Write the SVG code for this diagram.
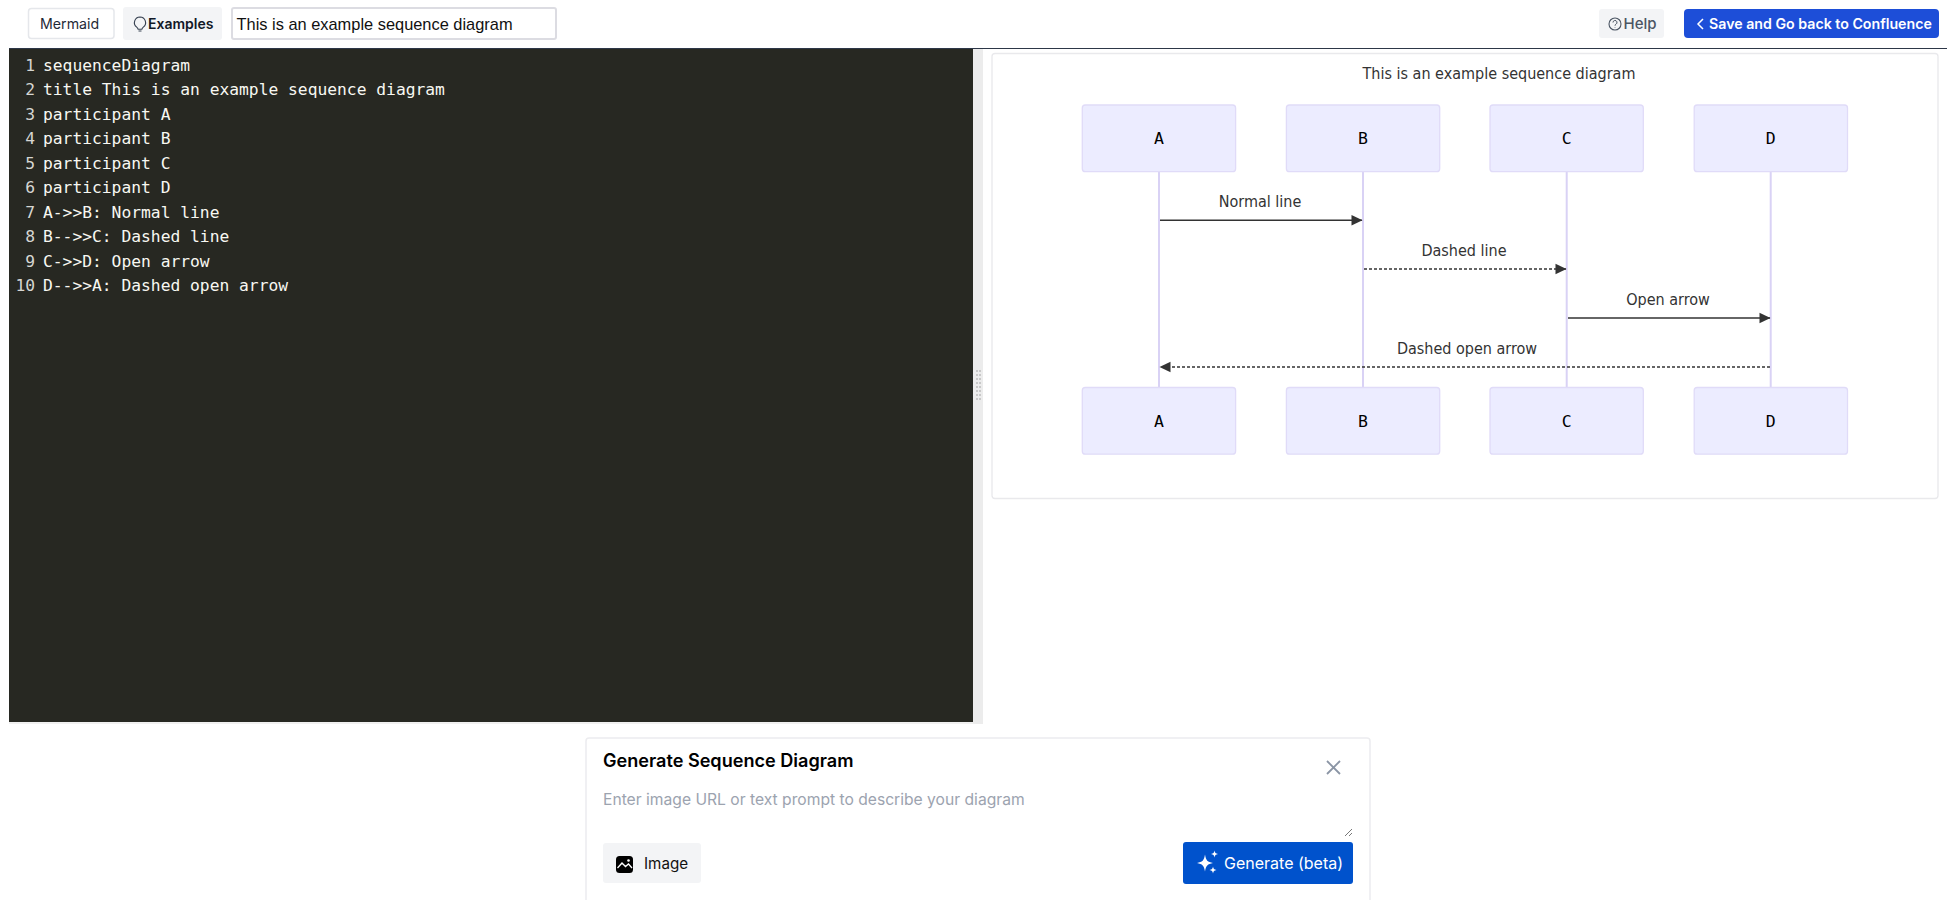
<svg xmlns="http://www.w3.org/2000/svg" width="1957" height="900" viewBox="0 0 1957 900">
<style>
.ui{font-family:"Inter","Liberation Sans",sans-serif}
.code{font-family:"DejaVu Sans Mono","Liberation Mono",monospace;font-size:16.3px;fill:#f8f8f2}
.num{font-family:"DejaVu Sans Mono","Liberation Mono",monospace;font-size:16.3px;fill:#d6d6d2;text-anchor:end}
.actor{fill:#ececff;stroke:#e0dbf8;stroke-width:1.3}
.alabel{font-family:"DejaVu Sans Mono",monospace;font-size:16.5px;fill:#000;text-anchor:middle}
.life{stroke:#d9d2f5;stroke-width:2;fill:none}
.msg{stroke:#333;stroke-width:1.5;fill:none}
.dash{stroke-dasharray:3 2}
.mtext{font-family:"DejaVu Sans Condensed","DejaVu Sans",sans-serif;font-stretch:condensed;font-size:16px;fill:#333;text-anchor:middle}
</style>
<defs>
<marker id="head" markerUnits="userSpaceOnUse" markerWidth="12" markerHeight="12" refX="11" refY="6" orient="auto-start-reverse" viewBox="0 0 12 12"><path d="M0.5 0.7L11.5 6L0.5 11.3Z" fill="#333"/></marker>
</defs>
<rect width="1957" height="900" fill="#fff"/>
<g id="toolbar">
<g id="btn-mermaid"><rect x="28.5" y="8.5" width="85.5" height="30" rx="3" fill="#fff" stroke="#e5e7eb" stroke-width="1.5"/><text class="ui" x="40" y="28.5" font-size="14.2" fill="#1f2937">Mermaid</text></g>
<g id="btn-examples"><rect x="123" y="7" width="99" height="33" rx="3" fill="#f3f4f6"/>
<path d="M140 17a5.600 5.600 0 0 0-3.300 10.100c.9.700 1.300 1.300 1.400 2.200h3.800c.1-.9.500-1.500 1.400-2.200A5.600 5.600 0 0 0 140 17ZM138.500 31h3" fill="none" stroke="#374151" stroke-width="1.100"/>
<text class="ui" x="148" y="28.500" font-size="14" font-weight="600" fill="#111827">Examples</text></g>
<g id="title-input"><rect x="232" y="8" width="324" height="31" rx="2" fill="#fff" stroke="#dcdce2" stroke-width="2"/><text x="236.500" y="29.500" font-family="Liberation Sans,sans-serif" font-size="16.400" fill="#111">This is an example sequence diagram</text></g>
<g id="btn-help"><rect x="1599" y="9" width="65" height="29" rx="3" fill="#f3f4f6"/><circle cx="1615" cy="24" r="6" fill="none" stroke="#4b5563" stroke-width="1.100"/><path d="M1613 22.500a2 2 0 1 1 3 1.700c-.7.400-1 .8-1 1.500M1615 27.300v.5" fill="none" stroke="#4b5563" stroke-width="1"/><text class="ui" x="1623.500" y="29" font-size="15" font-weight="500" fill="#4b5563">Help</text></g>
<g id="btn-save"><rect x="1684" y="9" width="255" height="29" rx="4" fill="#1d4ed8"/><path d="M1703 19l-5 5 5 5" fill="none" stroke="#fff" stroke-width="1.500"/><text class="ui" x="1709" y="29" font-size="14.200" font-weight="600" fill="#fff">Save and Go back to Confluence</text></g>
<line id="divider" x1="9" y1="48.500" x2="1947" y2="48.500" stroke="#2d3748" stroke-width="1.200"/>
</g>
<g id="editor">
<rect x="9" y="49" width="964" height="673" fill="#272822"/>
<rect x="973" y="49" width="10" height="675" fill="#ececec"/>
<rect x="9" y="722" width="964" height="2" fill="#f0f0f0"/>
<path d="M976 371h5M976 375h5M976 379h5M976 383h5M976 387h5M976 391h5M976 395h5M976 399h5" stroke="#c8c8c8" stroke-width="2" stroke-dasharray="2 1" fill="none"/>
<text class="num" x="35" y="70.500">1</text><text class="code" x="43" y="70.500">sequenceDiagram</text>
<text class="num" x="35" y="95">2</text><text class="code" x="43" y="95">title This is an example sequence diagram</text>
<text class="num" x="35" y="119.500">3</text><text class="code" x="43" y="119.500">participant A</text>
<text class="num" x="35" y="144">4</text><text class="code" x="43" y="144">participant B</text>
<text class="num" x="35" y="168.500">5</text><text class="code" x="43" y="168.500">participant C</text>
<text class="num" x="35" y="193">6</text><text class="code" x="43" y="193">participant D</text>
<text class="num" x="35" y="217.500">7</text><text class="code" x="43" y="217.500">A-&gt;&gt;B: Normal line</text>
<text class="num" x="35" y="242">8</text><text class="code" x="43" y="242">B--&gt;&gt;C: Dashed line</text>
<text class="num" x="35" y="266.500">9</text><text class="code" x="43" y="266.500">C-&gt;&gt;D: Open arrow</text>
<text class="num" x="35" y="291">10</text><text class="code" x="43" y="291">D--&gt;&gt;A: Dashed open arrow</text>
</g>
<g id="preview">
<rect x="992" y="53.500" width="946" height="445" rx="3" fill="#fff" stroke="#e9e9ec" stroke-width="1.300"/>
<text class="mtext" x="1499" y="79">This is an example sequence diagram</text>
</g>
<g id="connectors">
<line class="life" x1="1159" y1="172" x2="1159" y2="387"/>
<line class="life" x1="1363" y1="172" x2="1363" y2="387"/>
<line class="life" x1="1566.700" y1="172" x2="1566.700" y2="387"/>
<line class="life" x1="1770.700" y1="172" x2="1770.700" y2="387"/>
<line class="msg" x1="1160" y1="220.300" x2="1362" y2="220.300" marker-end="url(#head)"/>
<line class="msg dash" x1="1364" y1="269" x2="1566" y2="269" marker-end="url(#head)"/>
<line class="msg" x1="1568" y1="318" x2="1770" y2="318" marker-end="url(#head)"/>
<line class="msg dash" x1="1770" y1="367" x2="1160" y2="367" marker-end="url(#head)"/>
</g>
<g id="messages">
<text class="mtext" x="1260" y="206.500">Normal line</text>
<text class="mtext" x="1464" y="255.500">Dashed line</text>
<text class="mtext" x="1668" y="304.500">Open arrow</text>
<text class="mtext" x="1467" y="353.500">Dashed open arrow</text>
</g>
<g id="actor-A-top"><rect class="actor" x="1082.300" y="105" width="153.300" height="66.700" rx="3"/><text class="alabel" x="1159" y="144">A</text></g>
<g id="actor-B-top"><rect class="actor" x="1286.400" y="105" width="153.300" height="66.700" rx="3"/><text class="alabel" x="1363" y="144">B</text></g>
<g id="actor-C-top"><rect class="actor" x="1490" y="105" width="153.300" height="66.700" rx="3"/><text class="alabel" x="1566.700" y="144">C</text></g>
<g id="actor-D-top"><rect class="actor" x="1694.200" y="105" width="153.300" height="66.700" rx="3"/><text class="alabel" x="1770.700" y="144">D</text></g>
<g id="actor-A-bottom"><rect class="actor" x="1082.300" y="387.500" width="153.300" height="66.700" rx="3"/><text class="alabel" x="1159" y="426.500">A</text></g>
<g id="actor-B-bottom"><rect class="actor" x="1286.400" y="387.500" width="153.300" height="66.700" rx="3"/><text class="alabel" x="1363" y="426.500">B</text></g>
<g id="actor-C-bottom"><rect class="actor" x="1490" y="387.500" width="153.300" height="66.700" rx="3"/><text class="alabel" x="1566.700" y="426.500">C</text></g>
<g id="actor-D-bottom"><rect class="actor" x="1694.200" y="387.500" width="153.300" height="66.700" rx="3"/><text class="alabel" x="1770.700" y="426.500">D</text></g>
<g id="generate-card">
<path d="M586 901V741a3 3 0 0 1 3-3H1367a3 3 0 0 1 3 3V901" fill="#fff" stroke="#ececef" stroke-width="1.500"/>
<text class="ui" x="603" y="767" font-size="18.100" font-weight="600" fill="#000">Generate Sequence Diagram</text>
<path id="close" d="M1327 761l13 13M1340 761l-13 13" stroke="#8b95a5" stroke-width="1.800" fill="none"/>
<text class="ui" x="603" y="805" font-size="15.650" fill="#9ca3af">Enter image URL or text prompt to describe your diagram</text>
<path d="M1345 836l7-7M1349 836l3-3" stroke="#555" stroke-width=".8" fill="none"/>
<g id="btn-image"><rect x="603" y="843" width="98" height="40" rx="3" fill="#f3f4f6"/><rect x="616" y="856" width="17" height="17" rx="3.500" fill="#000"/><path d="M617.500 868l4.500-5 3.500 3.500 3-2.500 3.500 4" fill="none" stroke="#fff" stroke-width="1.300"/><circle cx="628.500" cy="860.500" r="1.300" fill="#fff"/><text class="ui" x="644" y="869" font-size="15.200" fill="#111">Image</text></g>
<g id="btn-generate"><rect x="1183" y="842" width="170" height="42" rx="3" fill="#0052cc"/><path d="M1205 854.500c1 6 2.500 7.500 8 8.500-5.500 1-7 2.500-8 8.500-1-6-2.500-7.500-8-8.500 5.500-1 7-2.500 8-8.500ZM1214.500 850.500c.5 2.500 1 3 3.500 3.500-2.500.5-3 1-3.500 3.500-.5-2.500-1-3-3.500-3.500 2.500-.5 3-1 3.500-3.500ZM1213 866.500c.5 2.500 1 3 3.500 3.500-2.500.5-3 1-3.500 3.500-.5-2.500-1-3-3.500-3.500 2.500-.5 3-1 3.500-3.500Z" fill="#fff"/><text class="ui" x="1224" y="869" font-size="16" fill="#fff">Generate (beta)</text></g>
</g>
</svg>
